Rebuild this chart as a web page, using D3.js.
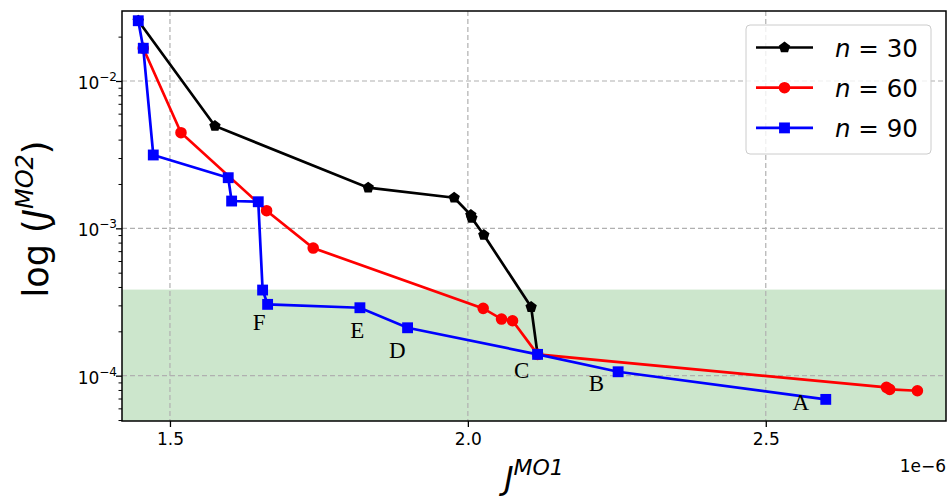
<!DOCTYPE html>
<html>
<head>
<meta charset="utf-8">
<script src="https://cdn.jsdelivr.net/npm/d3@7"></script>
<style>
  body { margin: 0; background: #fff; }
  text { font-family: "DejaVu Sans", sans-serif; fill: #000; }
</style>
</head>
<body>
<script>
// x values are in units of 1e-6 (axis offset shown as "1e-6")
var x30 = [1.4468, 1.5755, 1.8327, 1.977, 2.005, 2.0067, 2.0268, 2.1062, 2.117];
var y30 = [0.02564, 0.004948, 0.001887, 0.001613, 0.001231, 0.001175, 0.0009006, 0.0002922, 0.0001395];

var x60 = [1.4552, 1.5185, 1.6622, 1.7404, 2.0257, 2.0565, 2.075, 2.117, 2.7025, 2.708, 2.7545];
var y60 = [0.01668, 0.004457, 0.001317, 0.0007348, 0.0002863, 0.0002423, 0.0002359, 0.0001395, 0.0000833, 0.0000807, 0.000079];

var x90 = [1.4468, 1.4552, 1.472, 1.5978, 1.6035, 1.6482, 1.6555, 1.6639, 1.8188, 1.8988, 2.117, 2.2522, 2.6007];
var y90 = [0.02564, 0.01668, 0.003146, 0.002206, 0.001532, 0.001515, 0.0003812, 0.0003048, 0.0002891, 0.0002114, 0.0001395, 0.0001063, 0.00006904];

// annotation letters, placed in data coordinates
var labelText = ["F", "E", "D", "C", "B", "A"];
var labelX = [1.6498, 1.8143, 1.8814, 2.0901, 2.2159, 2.5587];
var labelY = [0.000232, 0.000204, 0.000150, 0.0001092, 0.0000887, 0.0000665];

var seriesNames = ["30", "60", "90"];
var xTicks = [1.5, 2.0, 2.5];
var yTicks = [1e-4, 1e-3, 1e-2];
var yTickExp = ["\u22124", "\u22123", "\u22122"];
var bandTop = 0.000384;   // upper edge of the green region

var W = 951, H = 498;
var margin = {top: 11, right: 5, bottom: 77, left: 122},
    width = W - margin.left - margin.right,
    height = H - margin.top - margin.bottom;

var x = d3.scaleLinear().domain([1.4195, 2.8025]).range([0, width]);
var y = d3.scaleLog().domain([4.925e-5, 0.02985]).range([height, 0]);

var svg = d3.select("body").append("svg")
    .attr("width", W)
    .attr("height", H)
  .append("g")
    .attr("transform", "translate(" + margin.left + "," + margin.top + ")");

// green region
svg.append("rect")
    .attr("x", 0)
    .attr("y", y(bandTop))
    .attr("width", width)
    .attr("height", height - y(bandTop))
    .attr("fill", "#008000")
    .attr("fill-opacity", 0.2);

// grid
svg.selectAll(".gx").data(xTicks).enter().append("line")
    .attr("x1", function(d) { return x(d); })
    .attr("x2", function(d) { return x(d); })
    .attr("y1", 0).attr("y2", height)
    .attr("stroke", "#b0b0b0").attr("stroke-width", 1.2)
    .attr("stroke-dasharray", "5,3");
svg.selectAll(".gy").data(yTicks).enter().append("line")
    .attr("y1", function(d) { return y(d); })
    .attr("y2", function(d) { return y(d); })
    .attr("x1", 0).attr("x2", width)
    .attr("stroke", "#b0b0b0").attr("stroke-width", 1.2)
    .attr("stroke-dasharray", "5,3");

// pentagon marker
var pentagon = {
  draw: function(context, size) {
    var r = Math.sqrt(size / 2.378);
    for (var i = 0; i < 5; i++) {
      var a = -Math.PI / 2 + i * 2 * Math.PI / 5;
      if (i === 0) context.moveTo(r * Math.cos(a), r * Math.sin(a));
      else context.lineTo(r * Math.cos(a), r * Math.sin(a));
    }
    context.closePath();
  }
};

var series = [
  {xs: x30, ys: y30, color: "black", symbol: pentagon, size: 85},
  {xs: x60, ys: y60, color: "#ff0000", symbol: d3.symbolCircle, size: 105},
  {xs: x90, ys: y90, color: "#0000ff", symbol: d3.symbolSquare, size: 118}
];

var lineFunction = d3.line()
    .x(function(d) { return x(d[0]); })
    .y(function(d) { return y(d[1]); });

series.forEach(function(s) {
  var pts = s.xs.map(function(v, i) { return [v, s.ys[i]]; });
  svg.append("path")
      .attr("d", lineFunction(pts))
      .attr("fill", "none")
      .attr("stroke", s.color)
      .attr("stroke-width", 2.7);
  svg.selectAll(null).data(pts).enter().append("path")
      .attr("transform", function(d) { return "translate(" + x(d[0]) + "," + y(d[1]) + ")"; })
      .attr("d", d3.symbol().type(s.symbol).size(s.size))
      .attr("fill", s.color);
});

// letters
svg.selectAll(".lbl").data(labelText).enter().append("text")
    .attr("x", function(d, i) { return x(labelX[i]); })
    .attr("y", function(d, i) { return y(labelY[i]) + 8; })
    .attr("text-anchor", "middle")
    .style("font-family", "'Liberation Serif', serif")
    .style("font-size", "23px")
    .text(function(d) { return d; });

// frame
svg.append("rect")
    .attr("width", width).attr("height", height)
    .attr("fill", "none").attr("stroke", "black").attr("stroke-width", 1.5);

// x axis
var xAxis = svg.append("g")
    .attr("transform", "translate(0," + height + ")")
    .call(d3.axisBottom(x).tickValues(xTicks).tickFormat(d3.format(".1f")).tickSize(6).tickPadding(6));
xAxis.select(".domain").remove();
xAxis.selectAll("line").attr("stroke-width", 1.3);
xAxis.selectAll("text").style("font-size", "17px").style("font-family", "'DejaVu Sans'");

// y axis major + minor
var minor = [];
[1e-5, 1e-4, 1e-3, 1e-2].forEach(function(p) {
  for (var k = 2; k <= 9; k++) {
    var v = p * k;
    if (v >= y.domain()[0] && v <= y.domain()[1]) minor.push(v);
  }
});
var yMinor = svg.append("g").call(d3.axisLeft(y).tickValues(minor).tickFormat("").tickSize(3.5));
yMinor.select(".domain").remove();
yMinor.selectAll("line").attr("stroke-width", 1);
var yAxis = svg.append("g").call(d3.axisLeft(y).tickValues(yTicks).tickFormat("").tickSize(6));
yAxis.select(".domain").remove();
yAxis.selectAll("line").attr("stroke-width", 1.3);

var yl = svg.selectAll(".ytl").data(yTicks).enter().append("text")
    .attr("x", -5)
    .attr("y", function(d) { return y(d) + 8; })
    .attr("text-anchor", "end")
    .style("font-size", "17px");
yl.append("tspan").text("10");
yl.append("tspan").attr("dy", -8).style("font-size", "12px")
    .text(function(d, i) { return yTickExp[i]; });

// offset text
svg.append("text")
    .attr("x", width)
    .attr("y", height + 51)
    .attr("text-anchor", "end")
    .style("font-size", "17px")
    .text("1e\u22126");

// x label
var xl = svg.append("text")
    .attr("x", width / 2)
    .attr("y", height + 68)
    .attr("text-anchor", "middle")
    .style("font-size", "32px");
xl.append("tspan").style("font-style", "italic").text("J");
xl.append("tspan").attr("dy", -14).style("font-size", "22px").style("font-style", "italic").text("MO1");

// y label
var ylab = svg.append("text")
    .attr("transform", "translate(" + (-74) + "," + (height / 2 + 3) + ") rotate(-90)")
    .attr("text-anchor", "middle")
    .style("font-size", "35px");
ylab.append("tspan").text("log (");
ylab.append("tspan").style("font-style", "italic").text("J");
ylab.append("tspan").attr("dy", -15).style("font-size", "24px").style("font-style", "italic").text("MO2");
ylab.append("tspan").attr("dy", 15).text(")");

// legend
var lg = svg.append("g").attr("transform", "translate(" + (746 - margin.left) + "," + (25 - margin.top) + ")");
lg.append("rect")
    .attr("width", 185).attr("height", 129).attr("rx", 4)
    .attr("fill", "white").attr("fill-opacity", 0.8)
    .attr("stroke", "#cccccc").attr("stroke-width", 1);
series.forEach(function(s, i) {
  var cy = 22.5 + i * 40.2;
  lg.append("line")
      .attr("x1", 10).attr("x2", 67)
      .attr("y1", cy).attr("y2", cy)
      .attr("stroke", s.color).attr("stroke-width", 2.7);
  lg.append("path")
      .attr("transform", "translate(38.5," + cy + ")")
      .attr("d", d3.symbol().type(s.symbol).size(s.size))
      .attr("fill", s.color);
  var t = lg.append("text")
      .attr("x", 89).attr("y", cy + 9)
      .style("font-size", "24.5px");
  t.append("tspan").style("font-style", "italic").text("n");
  t.append("tspan").text(" = " + seriesNames[i]);
});
</script>
</body>
</html>
